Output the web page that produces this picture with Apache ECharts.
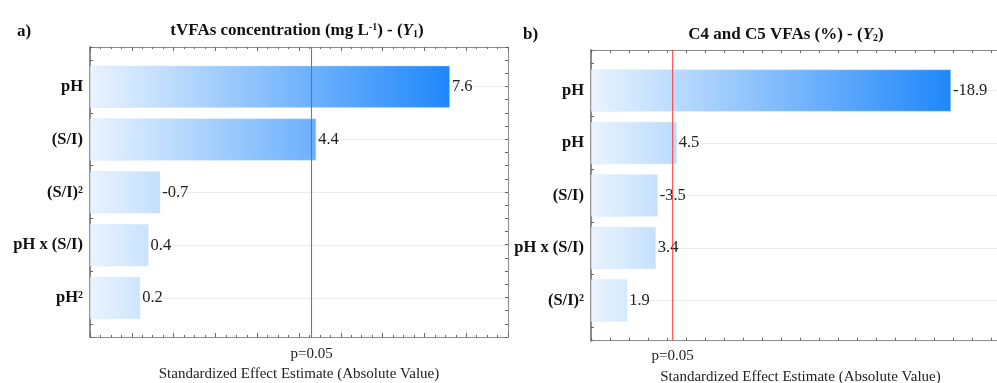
<!DOCTYPE html>
<html>
<head>
<meta charset="utf-8">
<script src="https://cdn.jsdelivr.net/npm/echarts@6.0.0/dist/echarts.min.js"></script>
<style>
  html, body { margin: 0; padding: 0; background: #fff; }
  #main { width: 997px; height: 383px; }
</style>
</head>
<body>
<div id="main"></div>
<script>
// a) tVFAs concentration - Pareto of standardized effects
var termsY1 = ['pH', '(S/I)', '(S/I)²', 'pH x (S/I)', 'pH²'];
var effectY1 = [8.61, 5.41, 1.68, 1.40, 1.20];      // bar length read on the axis
var estimateY1 = ['7.6', '4.4', '-0.7', '0.4', '0.2']; // printed value
var pLineY1 = 5.3;

// b) C4 and C5 VFAs
var termsY2 = ['pH', 'pH', '(S/I)', 'pH x (S/I)', '(S/I)²'];
var effectY2 = [18.9, 4.5, 3.5, 3.4, 1.9];
var estimateY2 = ['-18.9', '4.5', '-3.5', '3.4', '1.9'];
var pLineY2 = 4.29;

var pLabel = 'p=0.05';
var xTitle = 'Standardized Effect Estimate (Absolute Value)';

var serif = '"Liberation Serif", "Times New Roman", serif';
var axisGray = '#8c8c8c';
var pRed = '#ff3535';

// layout of the two panels
var L = { left: 90, top: 47, width: 418, height: 290, max: 10, barTop: 86.7, barH: 211.3 };
var R = { left: 591, top: 50, width: 419, height: 290.7, max: 22, barTop: 90.5, barH: 210 };
var yMin = -0.75, yMax = 4.75;

function barFill(p) {
  // colour follows x position across the panel (darkest at the longest bar)
  var end = p.left + Math.max.apply(null, p.vals) * p.width / p.max;
  return {
    type: 'linear', x: p.left, y: 0, x2: end, y2: 0, global: true,
    colorStops: [{ offset: 0, color: '#eaf4fe' }, { offset: 1, color: '#1f87fb' }]
  };
}

function frameX(p, pos, idx) {
  var ax = {
    type: 'value', gridIndex: idx, position: pos, min: 0, max: p.max, interval: 1,
    axisLine: { show: true, onZero: false, lineStyle: { color: axisGray, width: 1 } },
    axisTick: { show: true, inside: true, length: 3, lineStyle: { color: '#666' } },
    splitLine: { show: false },
    axisLabel: { show: false }
  };
  if (p === L) {
    ax.minorTick = { show: true, splitNumber: 4, length: 2, lineStyle: { color: '#666' } };
    ax.axisTick.length = 4;
  }
  return ax;
}

// bottom axis of the overlay grid: only the p=0.05 label and the axis title
function pAxis(p, idx, pValue) {
  return {
    type: 'value', gridIndex: idx, position: 'bottom', min: 0, max: p.max,
    axisLine: { show: false, onZero: false }, axisTick: { show: false }, splitLine: { show: false },
    axisLabel: {
      show: true, customValues: [pValue], formatter: function () { return pLabel; },
      margin: p === L ? 10 : 8, fontFamily: serif, fontSize: 15, color: '#222'
    },
    name: xTitle, nameLocation: 'middle', nameGap: p === L ? 30 : 29,
    nameTextStyle: { fontFamily: serif, fontSize: 15, color: '#222' }
  };
}

function frameY(pos, idx, width) {
  return {
    type: 'value', gridIndex: idx, position: pos, min: yMin, max: yMax, interval: 0.25, inverse: true,
    axisLine: { show: true, onZero: false, lineStyle: { color: axisGray, width: width } },
    axisTick: { show: true, inside: true, length: 3, lineStyle: { color: '#666' } },
    axisLabel: { show: false },
    splitLine: { show: false }
  };
}

function hiddenAxis(idx, min, max) {
  return { type: 'value', gridIndex: idx, min: min, max: max, show: false };
}

function catY(terms, idx) {
  return {
    type: 'category', gridIndex: idx, data: terms, inverse: true, boundaryGap: false,
    axisLine: { show: false, onZero: false }, axisTick: { show: false },
    axisLabel: { margin: 7, fontFamily: serif, fontWeight: 'bold', fontSize: 16.5, color: '#111' },
    splitLine: { show: true, lineStyle: { color: '#ececec', width: 1 } }
  };
}

function bars(p, vals, texts, xi, yi) {
  return {
    type: 'bar', xAxisIndex: xi, yAxisIndex: yi, data: vals, barWidth: 42, clip: false,
    itemStyle: { color: barFill({ left: p.left, width: p.width, max: p.max, vals: vals }), borderColor: 'rgba(205,228,250,0.8)', borderWidth: 0.5 },
    label: {
      show: true, position: 'right', distance: 2,
      formatter: function (q) { return texts[q.dataIndex]; },
      fontFamily: serif, fontSize: 16.5, color: '#222'
    },
    silent: true
  };
}

function pLineSeries(x, xi, yi) {
  return {
    type: 'line', xAxisIndex: xi, yAxisIndex: yi, data: [[x, yMin], [x, yMax]],
    symbol: 'none', color: pRed, itemStyle: { color: pRed },
    lineStyle: { color: pRed, width: 1, opacity: 1 }, z: 20, silent: true
  };
}

var titleBase = { fontFamily: serif, fontWeight: 'bold', fontSize: 17, color: '#111' };
var rich = {
  b: titleBase,
  sup: { fontFamily: serif, fontWeight: 'bold', fontSize: 10, color: '#111', verticalAlign: 'top', padding: [0, 0, 6, 0] },
  i: { fontFamily: serif, fontWeight: 'bold', fontStyle: 'italic', fontSize: 17, color: '#111' },
  sub: { fontFamily: serif, fontWeight: 'bold', fontSize: 10, color: '#111', verticalAlign: 'bottom', padding: [6, 0, 0, 0] }
};

var chartDom = document.getElementById('main');
var myChart = echarts.init(chartDom, null, { renderer: 'canvas' });
var option;

option = {
  backgroundColor: '#fff',
  animation: false,
  // every palette slot red, so nothing falls back to the v6 default slate colour
  color: [pRed, pRed, pRed, pRed, pRed, pRed],
  title: [
    { text: 'a)', left: 12, top: 18, textStyle: titleBase },
    { text: '{b|tVFAs concentration (mg L}{sup|-1}{b|) - (}{i|Y}{sub|1}{b|)}', left: 292, top: 17, textAlign: 'center', textStyle: { rich: rich } },
    { text: 'b)', left: 518, top: 21, textStyle: titleBase },
    { text: '{b|C4 and C5 VFAs (%) - (}{i|Y}{sub|2}{b|)}', left: 781, top: 21, textAlign: 'center', textStyle: { rich: rich } }
  ],
  grid: [
    { left: L.left, top: L.top, width: L.width, height: L.height, outerBoundsMode: 'none' },
    { left: L.left, top: L.barTop, width: L.width, height: L.barH, outerBoundsMode: 'none' },
    { left: R.left, top: R.top, width: R.width, height: R.height, outerBoundsMode: 'none' },
    { left: R.left, top: R.barTop, width: R.width, height: R.barH, outerBoundsMode: 'none' },
    // overlays for the p=0.05 lines
    { left: L.left, top: L.top, width: L.width, height: L.height, outerBoundsMode: 'none' },
    { left: R.left, top: R.top, width: R.width, height: R.height, outerBoundsMode: 'none' }
  ],
  xAxis: [
    frameX(L, 'bottom', 0),
    frameX(L, 'top', 0),
    hiddenAxis(1, 0, L.max),
    frameX(R, 'bottom', 2),
    frameX(R, 'top', 2),
    hiddenAxis(3, 0, R.max),
    pAxis(L, 4, pLineY1),
    pAxis(R, 5, pLineY2)
  ],
  yAxis: [
    frameY('left', 0, 2),
    frameY('right', 0, 1),
    catY(termsY1, 1),
    frameY('left', 2, 2),
    catY(termsY2, 3),
    hiddenAxis(4, yMin, yMax),
    hiddenAxis(5, yMin, yMax)
  ],
  series: [
    bars(L, effectY1, estimateY1, 2, 2),
    bars(R, effectY2, estimateY2, 5, 4),
    pLineSeries(pLineY1, 6, 5),
    pLineSeries(pLineY2, 7, 6)
  ]
};

myChart.setOption(option);
</script>
</body>
</html>
